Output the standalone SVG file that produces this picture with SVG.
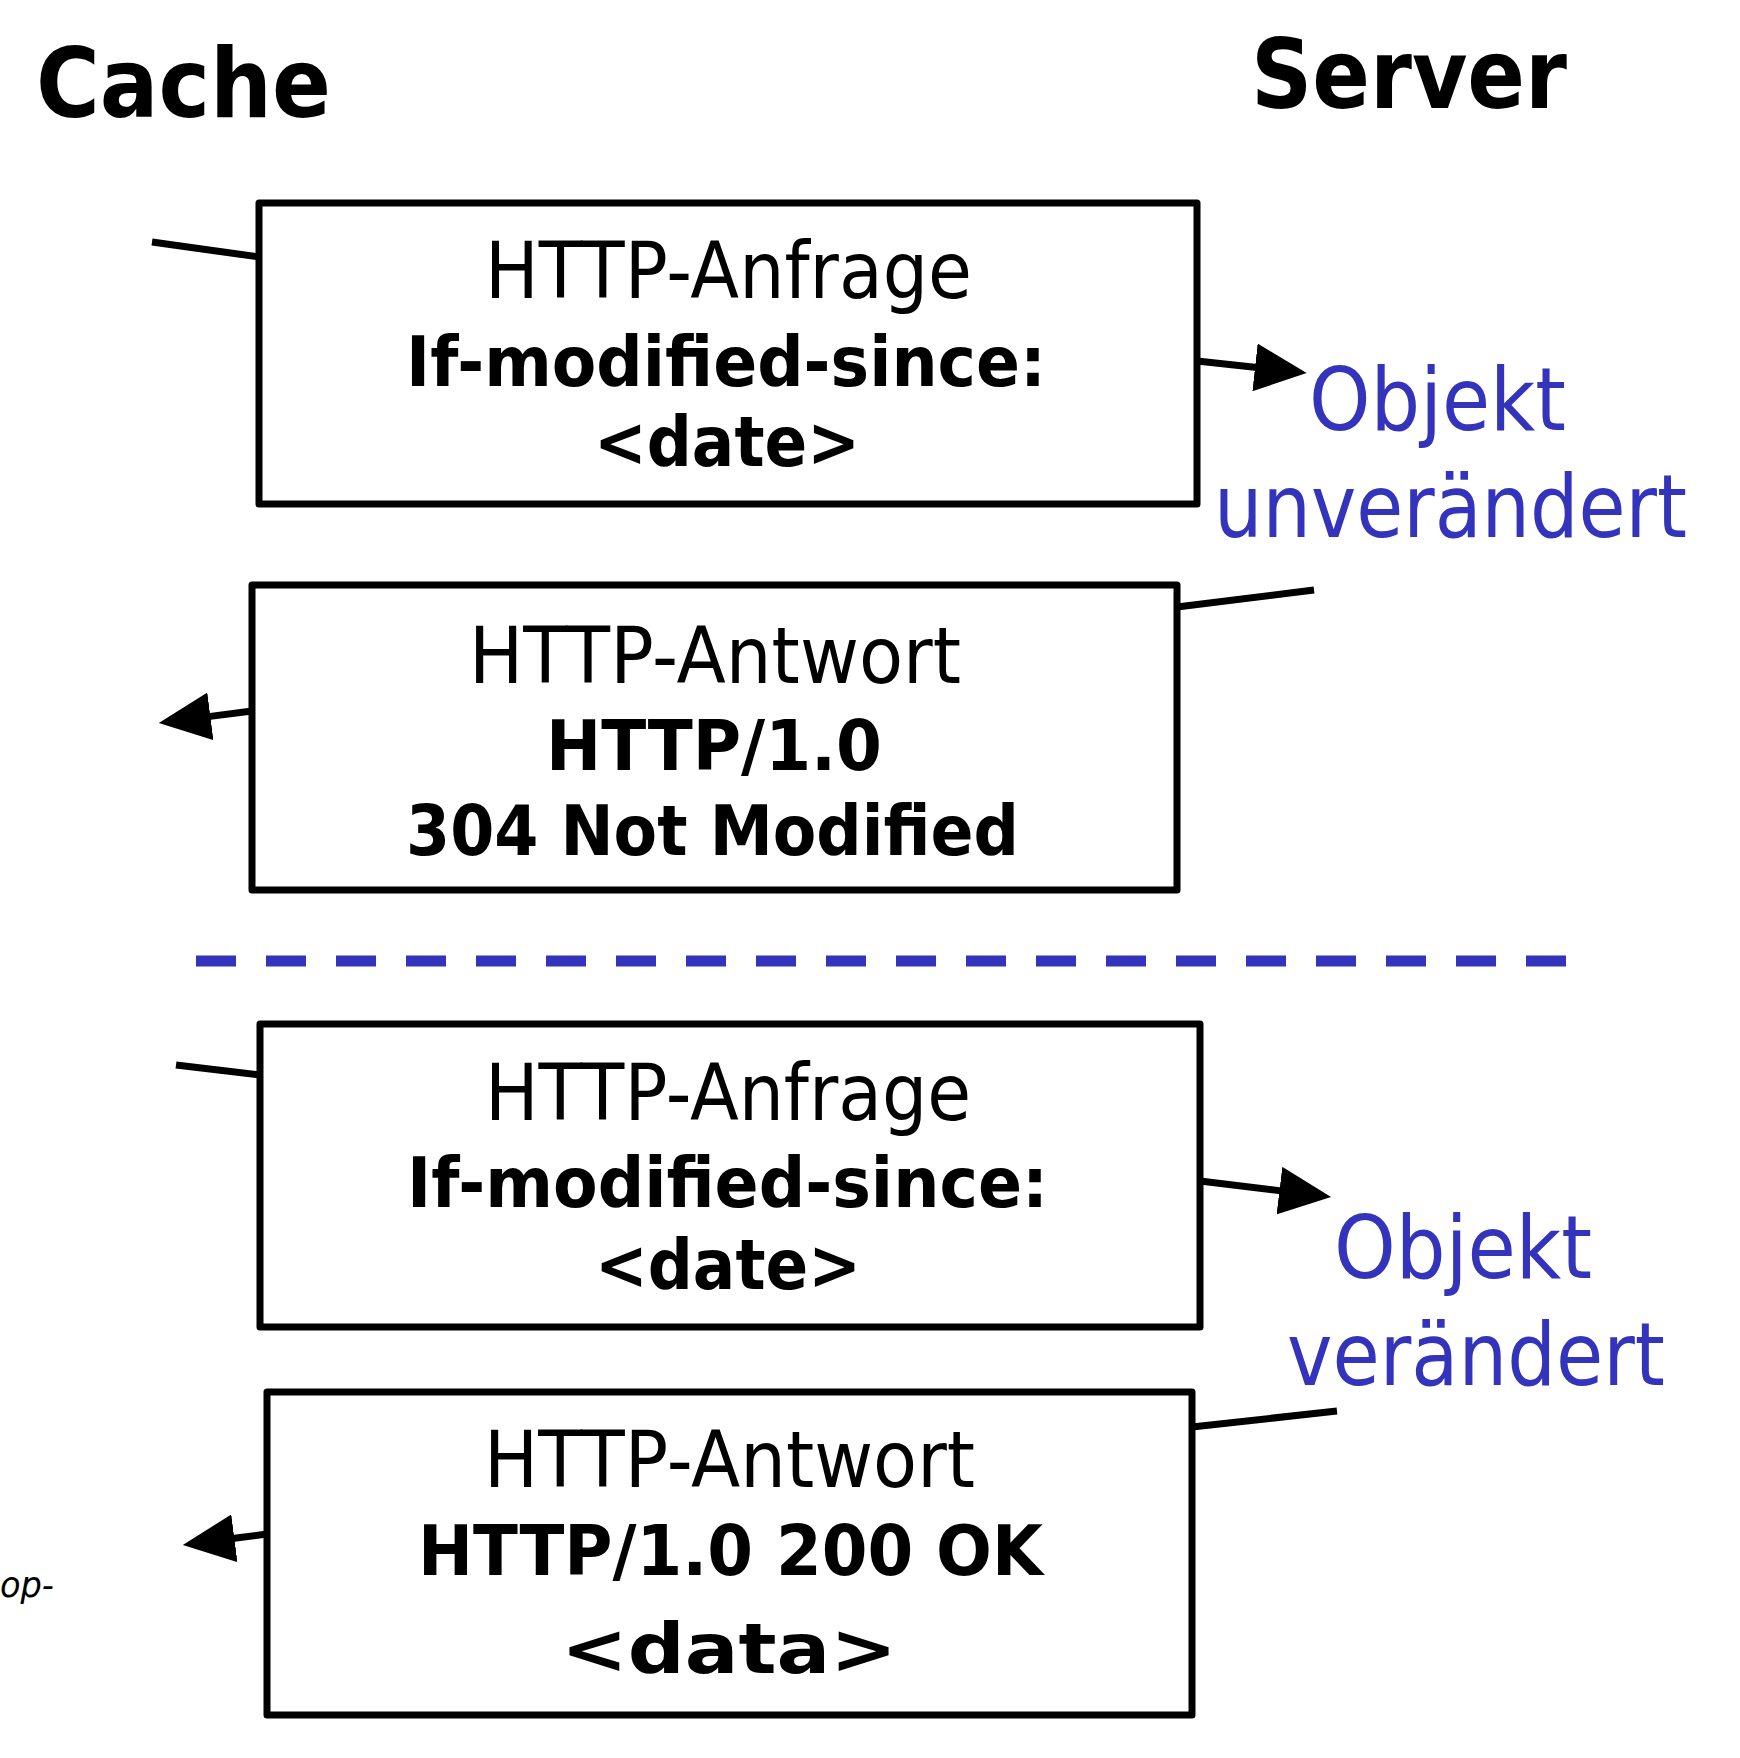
<svg xmlns="http://www.w3.org/2000/svg" width="1740" height="1758" viewBox="0 0 1740 1758">
<style>
.box{fill:#fff;stroke:#000;stroke-width:7;stroke-linejoin:round}
.ln{stroke:#000;stroke-width:7;fill:none}
.t{font-family:"DejaVu Sans","Liberation Sans",sans-serif;text-anchor:start}
.r{font-size:78px}
.b{font-size:70px;font-weight:bold}
.h{font-size:97px;font-weight:bold}
.blue{fill:#3333BB;font-size:88px}
</style>
<defs>
<marker id="ah" viewBox="0 0 52 48" refX="2" refY="24" markerWidth="52" markerHeight="48" markerUnits="userSpaceOnUse" orient="auto">
<path d="M0,0 L52,24 L0,48 z" fill="#000"/>
</marker>
</defs>
<rect width="1740" height="1758" fill="#fff"/>
<g id="labels">
<text class="t h" x="36" y="117" textLength="295" lengthAdjust="spacingAndGlyphs">Cache</text>
<text class="t h" x="1251" y="108" textLength="316" lengthAdjust="spacingAndGlyphs">Server</text>
<text class="t" x="0" y="1597" font-size="36" font-style="italic" textLength="54" lengthAdjust="spacingAndGlyphs">op-</text>
</g>
<g id="connectors">
<line class="ln" x1="152" y1="242" x2="259" y2="257"/>
<line class="ln" x1="1197" y1="361" x2="1257" y2="367.6" marker-end="url(#ah)"/>
<line class="ln" x1="1177" y1="607" x2="1314" y2="590"/>
<line class="ln" x1="252" y1="711" x2="208.4" y2="716.6" marker-end="url(#ah)"/>
<line x1="196" y1="961" x2="1570" y2="961" stroke="#3333BB" stroke-width="11" stroke-dasharray="40 30"/>
<line class="ln" x1="176" y1="1065" x2="260" y2="1075"/>
<line class="ln" x1="1200" y1="1181" x2="1281.4" y2="1190.9" marker-end="url(#ah)"/>
<line class="ln" x1="1192" y1="1427" x2="1337" y2="1411"/>
<line class="ln" x1="267" y1="1534" x2="232.4" y2="1538.5" marker-end="url(#ah)"/>
</g>
<g id="req1">
<rect class="box" x="259" y="203" width="938" height="301"/>
<text class="t r" x="485" y="298" textLength="487" lengthAdjust="spacingAndGlyphs">HTTP-Anfrage</text>
<text class="t b" x="406" y="386" textLength="640" lengthAdjust="spacingAndGlyphs">If-modified-since:</text>
<text class="t b" x="594" y="466" font-size="74" textLength="266" lengthAdjust="spacingAndGlyphs">&lt;date&gt;</text>
</g>
<g id="note1">
<text class="t blue" x="1309" y="430" textLength="257" lengthAdjust="spacingAndGlyphs">Objekt</text>
<text class="t blue" x="1214" y="537" textLength="473" lengthAdjust="spacingAndGlyphs">unverändert</text>
</g>
<g id="resp1">
<rect class="box" x="252" y="585" width="925" height="305"/>
<text class="t r" x="469" y="683" textLength="492" lengthAdjust="spacingAndGlyphs">HTTP-Antwort</text>
<text class="t b" x="546" y="770" textLength="336" lengthAdjust="spacingAndGlyphs">HTTP/1.0</text>
<text class="t b" x="406" y="855" textLength="613" lengthAdjust="spacingAndGlyphs">304 Not Modified</text>
</g>
<g id="req2">
<rect class="box" x="260" y="1024" width="940" height="303"/>
<text class="t r" x="485" y="1120" textLength="486" lengthAdjust="spacingAndGlyphs">HTTP-Anfrage</text>
<text class="t b" x="407" y="1207" textLength="641" lengthAdjust="spacingAndGlyphs">If-modified-since:</text>
<text class="t b" x="595" y="1289" font-size="74" textLength="266" lengthAdjust="spacingAndGlyphs">&lt;date&gt;</text>
</g>
<g id="note2">
<text class="t blue" x="1334" y="1278" textLength="258" lengthAdjust="spacingAndGlyphs">Objekt</text>
<text class="t blue" x="1287" y="1385" textLength="378" lengthAdjust="spacingAndGlyphs">verändert</text>
</g>
<g id="resp2">
<rect class="box" x="267" y="1392" width="925" height="323"/>
<text class="t r" x="484" y="1487" textLength="491" lengthAdjust="spacingAndGlyphs">HTTP-Antwort</text>
<text class="t b" x="418" y="1575" textLength="625" lengthAdjust="spacingAndGlyphs">HTTP/1.0 200 OK</text>
<text class="t b" x="561" y="1673" font-size="98" textLength="336" lengthAdjust="spacingAndGlyphs">&lt;data&gt;</text>
</g>
</svg>
